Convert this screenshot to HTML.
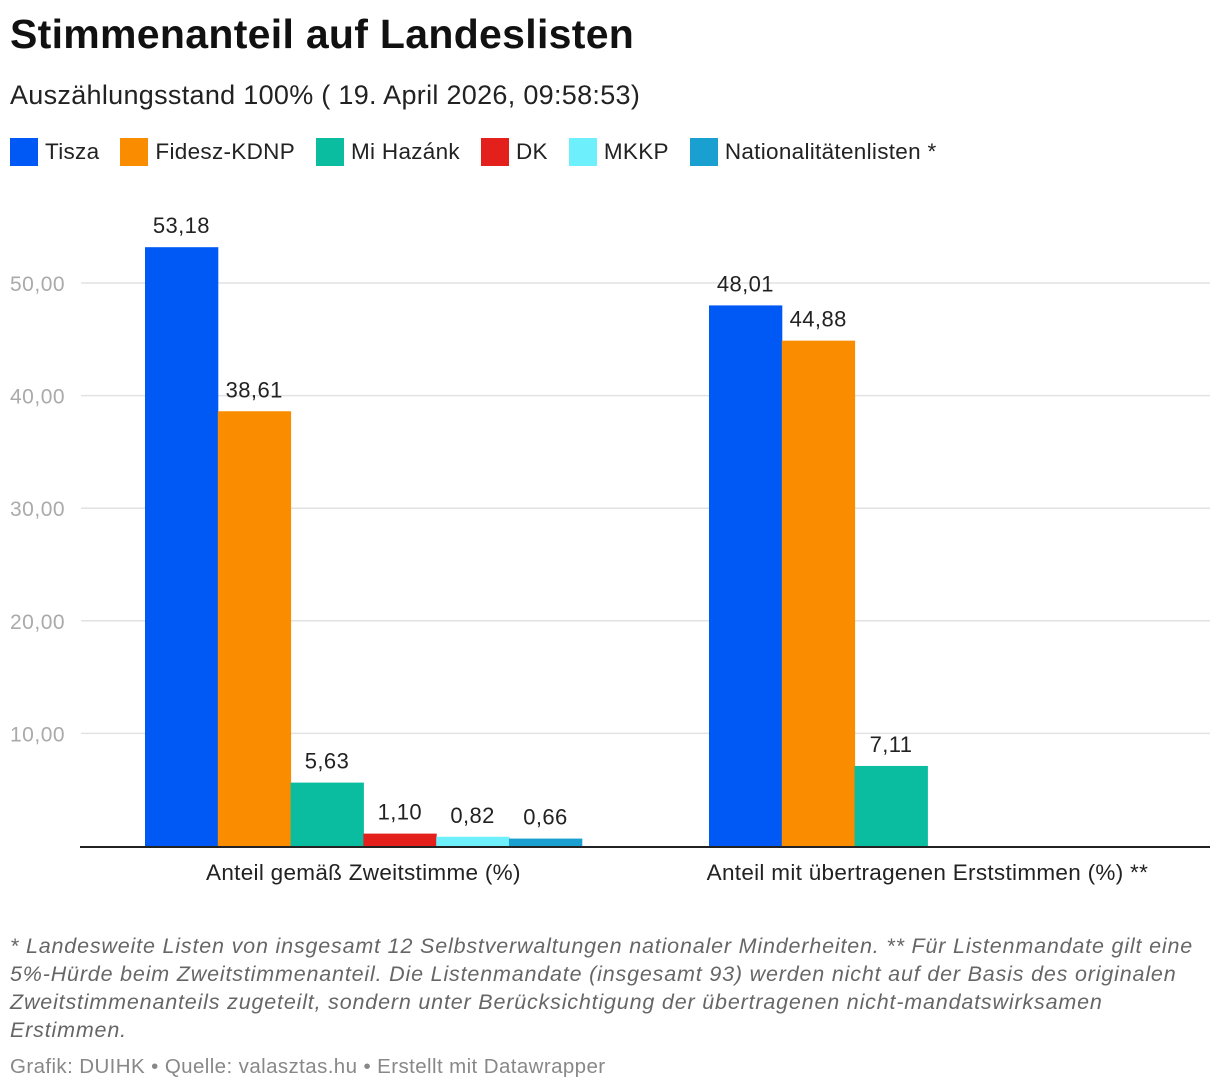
<!DOCTYPE html>
<html><head><meta charset="utf-8"><style>
body{margin:0;background:#fff;font-family:"Liberation Sans",sans-serif;}
#wrap{position:relative;width:1220px;height:1090px;overflow:hidden;}
.t{position:absolute;white-space:nowrap;}
</style></head><body>
<div id="wrap">
<div class="t" style="left:10px;top:11px;font-size:41px;font-weight:bold;color:#111;letter-spacing:0.3px">Stimmenanteil auf Landeslisten</div>
<div class="t" style="left:10px;top:80px;font-size:27px;color:#222;letter-spacing:0.3px">Auszählungsstand 100% ( 19. April 2026, 09:58:53)</div>
<div id="legend" style="position:absolute;left:10px;top:138px;display:flex;gap:21px;font-size:22.5px;color:#222;letter-spacing:0.3px"></div>
<svg id="chart" width="1220" height="1090" style="position:absolute;left:0;top:0"></svg>
<div class="t" style="left:10px;top:932px;font-size:21.5px;font-style:italic;color:#666;line-height:28px;letter-spacing:0.82px">* Landesweite Listen von insgesamt 12 Selbstverwaltungen nationaler Minderheiten. ** Für Listenmandate gilt eine<br>5%-Hürde beim Zweitstimmenanteil. Die Listenmandate (insgesamt 93) werden nicht auf der Basis des originalen<br>Zweitstimmenanteils zugeteilt, sondern unter Berücksichtigung der übertragenen nicht-mandatswirksamen<br>Erstimmen.</div>
<div class="t" style="left:10px;top:1055px;font-size:20.5px;color:#888;letter-spacing:0.4px">Grafik: DUIHK • Quelle: valasztas.hu • Erstellt mit Datawrapper</div>
</div>
<script>
const categories=["Anteil gemäß Zweitstimme (%)","Anteil mit übertragenen Erststimmen (%) **"];
const seriesNames=["Tisza","Fidesz-KDNP","Mi Hazánk","DK","MKKP","Nationalitätenlisten *"];
const seriesColors=["#0059f5","#fa8c00","#0bbda0","#e3201b","#6ef0fc","#19a0d0"];
const tisza=[53.18,48.01];
const fidesz=[38.61,44.88];
const mihazank=[5.63,7.11];
const dk=[1.10,null];
const mkkp=[0.82,null];
const nat=[0.66,null];
const yTicks=[10,20,30,40,50];
const series=[tisza,fidesz,mihazank,dk,mkkp,nat];

const NS="http://www.w3.org/2000/svg";
const svg=document.getElementById('chart');
const y0=846,pxPer=11.26;
function y(v){return y0-v*pxPer;}
const groupStart=[145,709],slotW=72.8;
function x(ci,si){return groupStart[ci]+si*slotW;}
function fmt(v){return v.toFixed(2).replace('.',',');}
function mk(tag,attrs){const e=document.createElementNS(NS,tag);for(const k in attrs)e.setAttribute(k,attrs[k]);svg.appendChild(e);return e;}

yTicks.forEach(t=>{
  const l=mk('line',{x1:81,x2:1210,y1:y(t),y2:y(t),stroke:'#e2e2e2','stroke-width':1.5});
  
  
  const tx=mk('text',{x:10,y:y(t)+8,'font-size':21,fill:'#aaa','font-family':'Liberation Sans','letter-spacing':0.5});
  tx.textContent=fmt(t);
  
  
});
series.forEach((s,si)=>{
  s.forEach((v,ci)=>{
    if(v==null)return;
    const r=mk('rect',{x:x(ci,si),y:y(v),width:slotW+0.5,height:v*pxPer,fill:seriesColors[si]});
    
    
    const tx=mk('text',{x:x(ci,si)+slotW/2,y:y(v)-14,'font-size':22,fill:'#222','text-anchor':'middle','font-family':'Liberation Sans','letter-spacing':0.4});
    tx.textContent=fmt(v);
    
    
  });
});
const ax=mk('line',{x1:80,x2:1210,y1:y0+1,y2:y0+1,stroke:'#222','stroke-width':2});


categories.forEach((c,ci)=>{
  const tx=mk('text',{x:groupStart[ci]+slotW*3,y:880,'font-size':22.5,fill:'#222','text-anchor':'middle','font-family':'Liberation Sans','letter-spacing':0.3});
  tx.textContent=c;
  
  
});
const lg=document.getElementById('legend');
seriesNames.forEach((n,i)=>{
  const d=document.createElement('div');
  d.style.cssText='display:flex;align-items:center;gap:7px;';
  d.innerHTML='<span style="display:inline-block;width:28px;height:28px;background:'+seriesColors[i]+'"></span><span>'+n+'</span>';
  
  
  lg.appendChild(d);
});
</script>
</body></html>
